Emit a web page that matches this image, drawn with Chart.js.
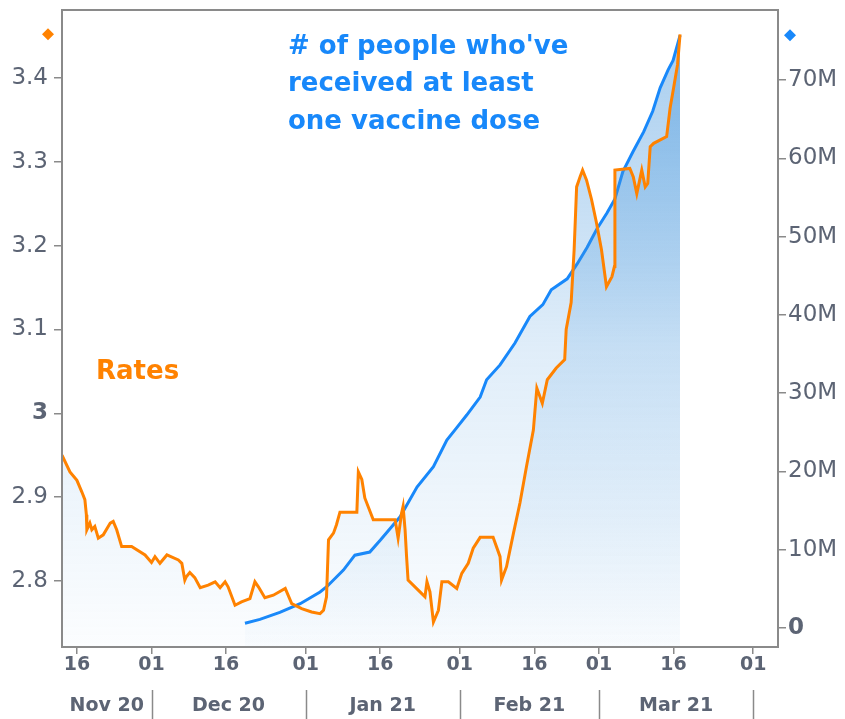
<!DOCTYPE html>
<html><head><meta charset="utf-8">
<script src="https://cdn.jsdelivr.net/npm/chart.js@4"></script>
<style>html,body{margin:0;padding:0;background:#fff;overflow:hidden}</style>
</head><body>
<canvas id="c" width="845" height="719"></canvas>
<script>
// x values are days since 1 Nov 2020
const rateDay = [12.0,13.6,15.0,16.0,16.6,16.9,17.0,17.6,18.0,18.6,19.3,20.3,21.7,22.3,23.0,24.0,26.0,28.7,30.0,30.7,31.7,33.1,35.4,36.1,36.7,37.0,37.7,38.7,39.8,41.4,42.8,43.8,44.8,45.4,46.8,48.1,49.8,50.8,51.5,52.8,54.5,56.9,58.2,60.2,62.2,63.9,64.6,65.2,65.6,66.6,67.2,67.9,71.3,71.6,72.3,72.9,74.6,79.0,79.6,80.3,80.6,81.0,81.3,81.6,84.0,85.0,85.4,86.0,86.7,87.7,88.4,89.7,91.4,92.4,93.7,94.7,96.1,98.7,100.1,100.4,101.4,102.8,104.1,105.4,106.8,107.5,108.6,109.6,111.4,113.1,113.4,114.4,115.0,115.3,115.5,116.2,116.7,117.5,118.5,119.5,120.5,121.5,122.6,123.1,123.2,126.2,126.9,127.6,128.6,129.3,129.8,130.3,131.0,133.6,134.3,135.0,135.8,136.3];
const rateValue = [2.950,2.930,2.920,2.906,2.897,2.879,2.861,2.869,2.861,2.865,2.851,2.855,2.869,2.871,2.861,2.841,2.841,2.831,2.822,2.829,2.821,2.831,2.825,2.821,2.801,2.805,2.810,2.804,2.792,2.795,2.799,2.792,2.799,2.793,2.771,2.775,2.779,2.799,2.793,2.780,2.783,2.791,2.773,2.767,2.763,2.761,2.765,2.781,2.849,2.857,2.867,2.882,2.882,2.930,2.921,2.899,2.873,2.873,2.851,2.881,2.889,2.861,2.829,2.801,2.787,2.781,2.799,2.787,2.751,2.765,2.799,2.799,2.791,2.809,2.821,2.839,2.852,2.852,2.829,2.801,2.817,2.857,2.893,2.936,2.980,3.030,3.012,3.040,3.054,3.064,3.100,3.132,3.195,3.240,3.270,3.282,3.290,3.278,3.255,3.227,3.195,3.151,3.163,3.175,3.290,3.292,3.282,3.262,3.290,3.270,3.274,3.318,3.322,3.330,3.364,3.388,3.416,3.452];
const vaxDay = [48.8,51.8,55.8,59.9,63.9,65.3,68.6,70.9,73.9,76.0,80.0,83.4,86.7,89.4,91.4,93.4,96.1,97.4,100.1,103.1,106.1,108.7,110.4,113.6,115.6,117.6,119.6,121.6,123.2,124.8,126.8,129.0,130.8,132.3,133.9,134.9,136.3];
const vaxMillions = [0.6,1.1,2.0,3.1,4.6,5.3,7.4,9.3,9.7,11.2,14.2,18.0,20.6,24.0,25.6,27.2,29.5,31.7,33.6,36.4,39.8,41.3,43.2,44.6,46.5,48.6,51.0,53.0,54.8,58.3,60.8,63.4,66.0,69.0,71.3,72.5,75.7];

const leftTicks = [2.8,2.9,3,3.1,3.2,3.3,3.4];
const rightTicks = [0,10,20,30,40,50,60,70];
const dayTicks = [15,30,45,61,76,92,107,120,135,151];
const dayTickLabels = ['16','01','16','01','16','01','16','01','16','01'];
const monthStarts = [0,30,61,92,120,151,181];
const monthLabels = ['Nov 20','Dec 20','Jan 21','Feb 21','Mar 21','Apr 21'];
const titleLines = ["# of people who've","received at least","one vaccine dose"];
const rateLabel = 'Rates';

const BLUE = 'rgb(24,136,250)';
const ORANGE = 'rgb(255,130,0)';
const AXIS = '#8a8a8a';
const TXT = '#5c6474';

function grad(c){
  const ch = c.chart, a = ch.chartArea;
  if(!a) return 'rgba(0,0,0,0)';
  const g = ch.ctx.createLinearGradient(0,a.top,0,a.bottom);
  g.addColorStop(0,'rgba(70,150,220,0.48)');
  g.addColorStop(0.04,'rgba(70,150,220,0.47)');
  g.addColorStop(0.53,'rgba(70,150,220,0.17)');
  g.addColorStop(1,'rgba(70,150,220,0.02)');
  return g;
}

const deco = {
  id:'deco',
  afterDraw(chart){
    const {ctx, chartArea:a, scales} = chart;
    const x = scales.x;
    ctx.save();
    ctx.strokeStyle = AXIS; ctx.lineWidth = 2;
    ctx.strokeRect(a.left, a.top, a.right-a.left, a.bottom-a.top);
    ctx.lineWidth = 1.5;
    ctx.fillStyle = TXT;
    ctx.font = 'bold 19px "DejaVu Sans"';
    ctx.textAlign = 'center'; ctx.textBaseline = 'middle';
    for(let i=0;i<monthLabels.length;i++){
      const s = Math.max(monthStarts[i], x.min), e = Math.min(monthStarts[i+1], x.max);
      if(e <= s) continue;
      const xs = x.getPixelForValue(s), xe = x.getPixelForValue(e);
      if(monthStarts[i] >= x.min){
        ctx.beginPath(); ctx.moveTo(Math.round(xs)+0.5, 690); ctx.lineTo(Math.round(xs)+0.5, 719); ctx.stroke();
      }
      if(e - s > 10) ctx.fillText(monthLabels[i], (xs+xe)/2, 706);
    }
    const yl = scales.yL, yr = scales.yR;
    function diamond(cx, cy, col){
      ctx.fillStyle = col; ctx.beginPath();
      ctx.moveTo(cx, cy-6); ctx.lineTo(cx+6, cy); ctx.lineTo(cx, cy+6); ctx.lineTo(cx-6, cy); ctx.closePath(); ctx.fill();
    }
    diamond(a.left-14, yl.getPixelForValue(rateValue[rateValue.length-1]), ORANGE);
    diamond(a.right+12, yr.getPixelForValue(vaxMillions[vaxMillions.length-1]), BLUE);
    ctx.textAlign = 'left';
    ctx.font = 'bold 26px "DejaVu Sans"';
    ctx.fillStyle = BLUE;
    titleLines.forEach((t,i)=>ctx.fillText(t, 288, 47 + i*37.5));
    ctx.fillStyle = ORANGE;
    ctx.fillText(rateLabel, 96, 372);
    ctx.restore();
  }
};

function noPad(s){ s.paddingTop = 0; s.paddingBottom = 0; s.paddingLeft = 0; s.paddingRight = 0; }

new Chart(document.getElementById('c'), {
  type:'line',
  data:{
    datasets:[
      {label:'Rates', data: rateDay.map((d,i)=>({x:d, y:rateValue[i]})), yAxisID:'yL',
       borderColor:ORANGE, borderWidth:3, pointRadius:0, tension:0, fill:'start', backgroundColor:grad, order:0},
      {label:'Vaccinated', data: vaxDay.map((d,i)=>({x:d, y:vaxMillions[i]})), yAxisID:'yR',
       borderColor:BLUE, borderWidth:3, pointRadius:0, tension:0, fill:'start', backgroundColor:grad, order:1}
    ]
  },
  options:{
    responsive:false, animation:false, devicePixelRatio:1,
    layout:{padding:{top:10, left:0, right:0, bottom:0}},
    plugins:{legend:{display:false}, tooltip:{enabled:false}},
    scales:{
      x:{type:'linear', min:12, max:156,
        afterBuildTicks: s => { s.ticks = dayTicks.map(v=>({value:v})); },
        afterFit: s => { s.height = 72; noPad(s); },
        ticks:{autoSkip:false, maxRotation:0, padding:0, color:TXT,
          font:{family:'DejaVu Sans', size:19, weight:'bold'},
          callback:(v,i)=>dayTickLabels[i]},
        grid:{display:true, drawOnChartArea:false, drawTicks:true, tickLength:7, color:AXIS, lineWidth:1.5},
        border:{display:false}
      },
      yL:{type:'linear', position:'left', min:2.7212, max:3.481,
        afterBuildTicks: s => { s.ticks = leftTicks.map(v=>({value:v})); },
        afterFit: s => { s.width = 62; noPad(s); },
        ticks:{padding:6, color:TXT,
          font: c => ({family:'DejaVu Sans', size:23, weight: (c.tick && c.tick.value===3) ? 'bold':'normal'}),
          callback: v => v===3 ? '3' : v.toFixed(1)},
        grid:{display:true, drawOnChartArea:false, drawTicks:true, tickLength:8, color:AXIS, lineWidth:1.5},
        border:{display:false}
      },
      yR:{type:'linear', position:'right', min:-2.43, max:78.94,
        afterBuildTicks: s => { s.ticks = rightTicks.map(v=>({value:v})); },
        afterFit: s => { s.width = 67; noPad(s); },
        ticks:{padding:2, color:TXT,
          font: c => ({family:'DejaVu Sans', size:23, weight: (c.tick && c.tick.value===0) ? 'bold':'normal'}),
          callback: v => v===0 ? '0' : v+'M'},
        grid:{display:true, drawOnChartArea:false, drawTicks:true, tickLength:8, color:AXIS, lineWidth:1.5},
        border:{display:false}
      }
    }
  },
  plugins:[deco]
});
</script>
</body></html>
